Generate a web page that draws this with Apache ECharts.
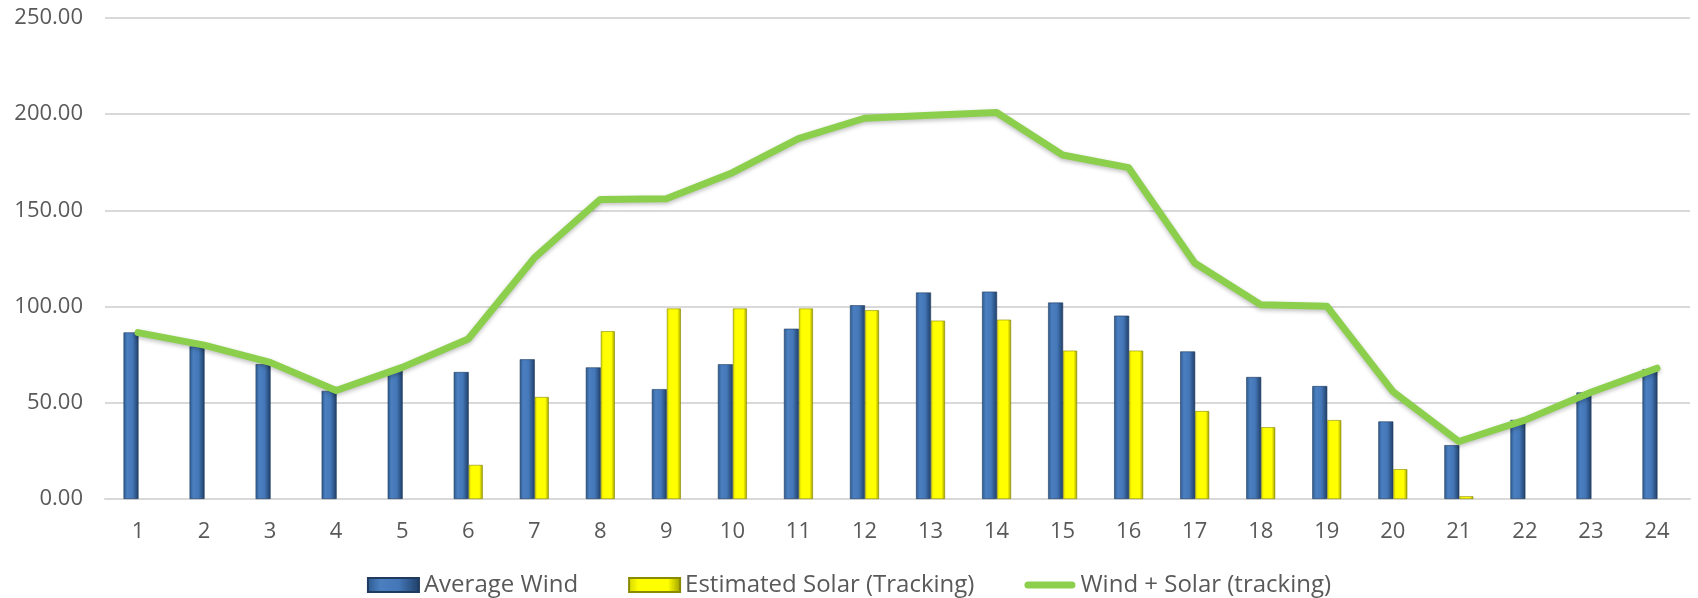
<!DOCTYPE html>
<html>
<head>
<meta charset="utf-8">
<script src="https://cdn.jsdelivr.net/npm/echarts@6/dist/echarts.min.js"></script>
<style>
  html, body { margin: 0; padding: 0; background: #fff; }
  #chart { width: 1698px; height: 598px; }
</style>
</head>
<body>
<div id="chart"></div>
<script>
// hours
var hours = ['1', '2', '3', '4', '5', '6', '7', '8', '9', '10', '11', '12',
             '13', '14', '15', '16', '17', '18', '19', '20', '21', '22', '23', '24'];

var averageWind = [86.6, 79.3, 70.1, 56.2, 67.5, 66.0, 72.6, 68.4, 57.1, 70.0, 88.5, 100.7,
                   107.3, 107.8, 102.1, 95.3, 76.7, 63.4, 58.7, 40.3, 28.0, 41.1, 55.4, 67.5];

var solarTracking = [null, null, null, null, null, 17.7, 53.0, 87.2, 99.0, 99.0, 99.0, 98.1,
                     92.7, 93.2, 77.1, 77.1, 45.7, 37.3, 41.0, 15.5, 1.4, null, null, null];

var windPlusSolar = [86.5, 80.0, 71.0, 56.4, 68.4, 83.2, 125.3, 155.7, 156.0, 169.6, 187.3, 197.9,
                     199.5, 200.9, 178.8, 172.2, 122.7, 101.0, 100.2, 55.9, 29.9, 41.0, 55.5, 68.0];

var yTicks = [0, 50, 100, 150, 200, 250];

var fontFam = '"Open Sans", "Noto Sans", sans-serif';
var textGrey = '#595959';

var blueFill = new echarts.graphic.LinearGradient(0, 0, 1, 0, [
  { offset: 0, color: '#2d5a8e' },
  { offset: 0.25, color: '#4b7fc0' },
  { offset: 0.6, color: '#4477b8' },
  { offset: 1, color: '#1f3e66' }
]);
var yellowFill = new echarts.graphic.LinearGradient(0, 0, 1, 0, [
  { offset: 0, color: '#d6d600' },
  { offset: 0.2, color: '#ffff00' },
  { offset: 0.75, color: '#ffff00' },
  { offset: 1, color: '#9c9c00' }
]);

var chart = echarts.init(document.getElementById('chart'));

chart.setOption({
  animation: false,
  textStyle: { fontFamily: fontFam },
  grid: { left: 105, right: 8, top: 18, bottom: 99, containLabel: false },
  legend: {
    bottom: -4,
    left: 'center',
    itemWidth: 51,
    itemHeight: 14,
    itemGap: 50,
    textStyle: { color: textGrey, fontSize: 24, fontFamily: fontFam, padding: [0, 0, 0, 0] },
    data: [
      { name: 'Average Wind', icon: 'rect' },
      { name: 'Estimated Solar (Tracking)', icon: 'rect' },
      { name: 'Wind + Solar (tracking)',
        icon: 'path://M3.5,0 H47.5 A3.5,3.5 0 0 1 47.5,7 H3.5 A3.5,3.5 0 0 1 3.5,0 Z' }
    ]
  },
  xAxis: {
    type: 'category',
    data: hours,
    axisLine: { lineStyle: { color: '#d9d9d9', width: 2 } },
    axisTick: { show: false },
    axisLabel: { color: textGrey, fontSize: 22, margin: 22, fontFamily: fontFam }
  },
  yAxis: {
    type: 'value',
    min: yTicks[0],
    max: yTicks[yTicks.length - 1],
    interval: 50,
    axisLine: { show: false },
    axisTick: { show: false },
    splitLine: { lineStyle: { color: '#d9d9d9', width: 2 } },
    axisLabel: {
      color: textGrey, fontSize: 22, margin: 22, fontFamily: fontFam,
      formatter: function (v) { return v.toFixed(2); }
    }
  },
  series: [
    {
      name: 'Average Wind',
      type: 'bar',
      data: averageWind,
      barWidth: 15,
      barGap: '0%',
      itemStyle: { color: blueFill, borderColor: '#1f3a5e', borderWidth: 0.6 }
    },
    {
      name: 'Estimated Solar (Tracking)',
      type: 'bar',
      data: solarTracking,
      barWidth: 14,
      barGap: '0%',
      itemStyle: { color: yellowFill, borderColor: '#8a8a00', borderWidth: 0.6 }
    },
    {
      name: 'Wind + Solar (tracking)',
      type: 'line',
      data: windPlusSolar,
      symbol: 'none',
      z: 5,
      lineStyle: {
        color: '#8ccf4d', width: 7, cap: 'round', join: 'round',
        shadowColor: 'rgba(0,0,0,0.25)', shadowBlur: 4, shadowOffsetY: 2
      },
      itemStyle: { color: '#8ccf4d' }
    }
  ]
});
</script>
</body>
</html>
